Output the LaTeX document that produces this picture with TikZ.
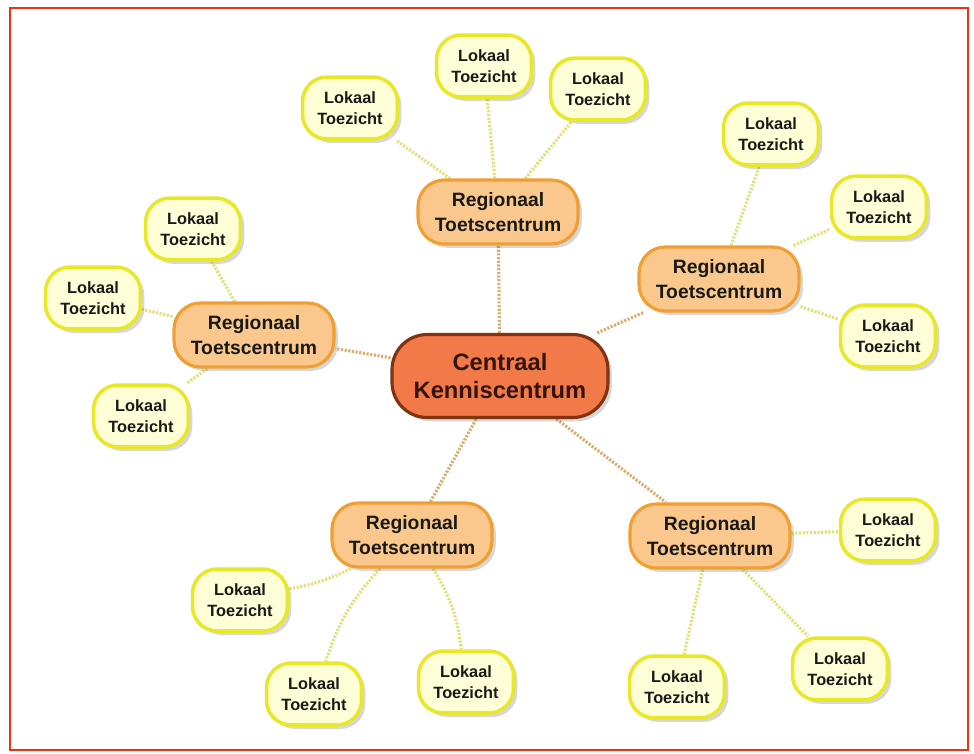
\documentclass[tikz,border=0pt]{standalone}
\usepackage{fontspec}
\setmainfont{Liberation Sans}
\usetikzlibrary{shadows,backgrounds}
\definecolor{frame}{RGB}{240,50,20}
\definecolor{cfill}{RGB}{242,122,72}
\definecolor{cdraw}{RGB}{130,50,15}
\definecolor{ctext}{RGB}{50,20,10}
\definecolor{rfill}{RGB}{250,200,140}
\definecolor{rdraw}{RGB}{240,160,50}
\definecolor{lfill}{RGB}{255,255,215}
\definecolor{ldraw}{RGB}{232,232,40}
\definecolor{ledge}{RGB}{225,225,120}
\definecolor{redge}{RGB}{215,175,110}
\definecolor{ttext}{RGB}{25,25,25}
\tikzset{
  shadowed/.style={drop shadow={opacity=0.22,shadow xshift=2.2pt,shadow yshift=-2.2pt,fill=black!70}},
  central/.style={draw=cdraw,fill=cfill,line width=1.8pt,rounded corners=20pt,
    minimum width=4.32cm,minimum height=1.66cm,align=center,text=ctext,
    font=\fontsize{13.5}{16}\selectfont\bfseries,shadowed},
  regio/.style={draw=rdraw,fill=rfill,line width=1.8pt,rounded corners=15pt,
    minimum width=3.2cm,minimum height=1.28cm,align=center,text=ttext,
    font=\fontsize{11}{13.8}\selectfont\bfseries,shadowed},
  lokaal/.style={draw=ldraw,fill=lfill,line width=2pt,rounded corners=14pt,
    minimum width=1.9cm,minimum height=1.24cm,align=center,text=ttext,
    font=\fontsize{9.3}{12.3}\selectfont\bfseries,shadowed},
  ledgestyle/.style={draw=ledge,line width=1.8pt,dash pattern=on 1.2pt off 0.9pt},
  redgestyle/.style={draw=redge,line width=1.8pt,dash pattern=on 1.2pt off 0.9pt},
}
\begin{document}
\begin{tikzpicture}[x=0.02cm,y=-0.02cm]
\useasboundingbox (0,0) rectangle (974,754);

\node[central] (C) at (500,376) {Centraal\\Kenniscentrum};

\node[regio] (R1) at (498,212) {Regionaal\\Toetscentrum};
\node[regio] (R2) at (719,279) {Regionaal\\Toetscentrum};
\node[regio] (R3) at (254,335) {Regionaal\\Toetscentrum};
\node[regio] (R4) at (412,535) {Regionaal\\Toetscentrum};
\node[regio] (R5) at (710,536) {Regionaal\\Toetscentrum};

\node[lokaal] (T1) at (350,108) {Lokaal\\Toezicht};
\node[lokaal] (T2) at (484,66) {Lokaal\\Toezicht};
\node[lokaal] (T3) at (598,89) {Lokaal\\Toezicht};

\node[lokaal] (U1) at (771,134) {Lokaal\\Toezicht};
\node[lokaal] (U2) at (879,207) {Lokaal\\Toezicht};
\node[lokaal] (U3) at (888,336) {Lokaal\\Toezicht};

\node[lokaal] (V1) at (193,229) {Lokaal\\Toezicht};
\node[lokaal] (V2) at (93,298) {Lokaal\\Toezicht};
\node[lokaal] (V3) at (141,416) {Lokaal\\Toezicht};

\node[lokaal] (W1) at (240,600) {Lokaal\\Toezicht};
\node[lokaal] (W2) at (314,694) {Lokaal\\Toezicht};
\node[lokaal] (W3) at (466,682) {Lokaal\\Toezicht};

\node[lokaal] (X1) at (888,530) {Lokaal\\Toezicht};
\node[lokaal] (X2) at (840,669) {Lokaal\\Toezicht};
\node[lokaal] (X3) at (677,687) {Lokaal\\Toezicht};

\begin{scope}[on background layer]
\fill[white] (0,0) rectangle (974,754);
\draw[frame,line width=1.3pt] (10,8) rectangle (968,750);
\draw[redgestyle] (C) -- (R1);
\draw[redgestyle] (C) -- (R2);
\draw[redgestyle] (C) -- (R3);
\draw[redgestyle] (C) -- (R4);
\draw[redgestyle] (C) -- (R5);
\draw[ledgestyle] (R1) -- (T1);
\draw[ledgestyle] (R1) -- (T2);
\draw[ledgestyle] (R1) -- (T3);
\draw[ledgestyle] (R2) -- (U1);
\draw[ledgestyle] (R2) -- (U2);
\draw[ledgestyle] (R2) -- (U3);
\draw[ledgestyle] (R3) -- (V1);
\draw[ledgestyle] (R3) -- (V2);
\draw[ledgestyle] (R3) -- (V3);
\draw[ledgestyle] (R4) to[bend left=8] (W1);
\draw[ledgestyle] (R4) to[bend right=12] (W2);
\draw[ledgestyle] (R4) to[bend left=12] (W3);
\draw[ledgestyle] (R5) -- (X1);
\draw[ledgestyle] (R5) -- (X2);
\draw[ledgestyle] (R5) -- (X3);
\end{scope}
\end{tikzpicture}
\end{document}
